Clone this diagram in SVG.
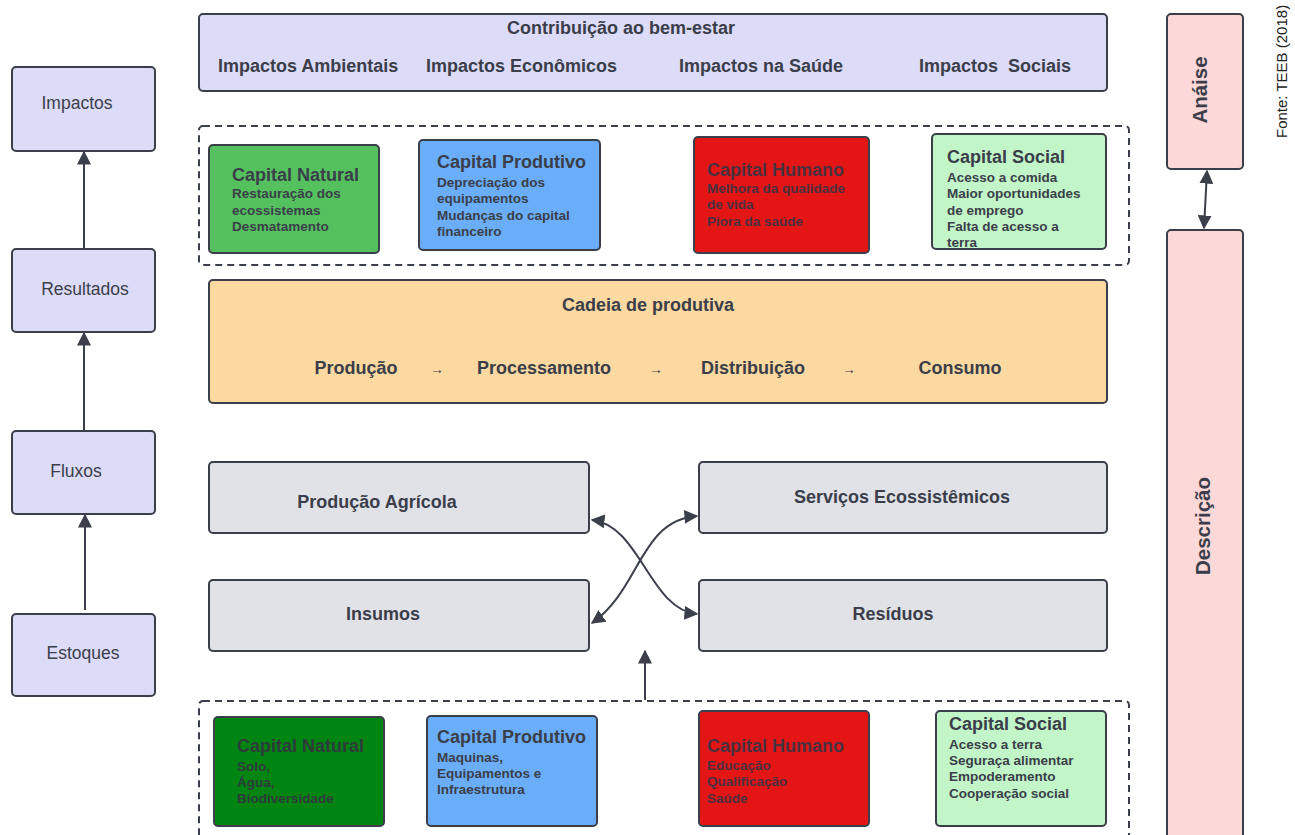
<svg xmlns="http://www.w3.org/2000/svg" width="1295" height="835" viewBox="0 0 1295 835">
<defs>
<style>
.box{stroke:#3b3f4a;stroke-width:2}
.dash{fill:none;stroke:#3b3f4a;stroke-width:2;stroke-dasharray:7 5}
.t{font-family:"Liberation Sans",Arial,sans-serif;fill:#3b3e4a}
.lbl{font-size:18px;font-weight:bold}
.rot{font-size:20.5px;font-weight:bold}
.cap{font-size:18px;font-weight:bold}
.ln{font-size:13.5px;font-weight:bold}
.left{font-size:17.5px}
.hum{fill:#4a3040}
.nat{fill:#2f3b3a}
.con{fill:none;stroke:#3b3f4a;stroke-width:2}
</style>
<marker id="ah2" viewBox="0 0 10 10" refX="9" refY="5" markerWidth="14" markerHeight="14" markerUnits="userSpaceOnUse" orient="auto-start-reverse">
<path d="M0,0 L10,5 L0,10 z" fill="#3b3f4a"/>
</marker>
</defs>
<rect width="1295" height="835" fill="#ffffff"/>

<g id="bem-estar">
<rect class="box" x="199" y="14" width="908" height="77" rx="4" fill="#dcdcf8"/>
<text class="t lbl" x="621" y="34" text-anchor="middle">Contribuição ao bem-estar</text>
<text class="t lbl" x="218" y="72">Impactos Ambientais</text>
<text class="t lbl" x="426" y="72">Impactos Econômicos</text>
<text class="t lbl" x="679" y="72">Impactos na Saúde</text>
<text class="t lbl" x="919" y="72" xml:space="preserve">Impactos  Sociais</text>
</g>

<g id="resultados-capitais">
<rect class="dash" x="199" y="126" width="930" height="139" rx="4"/>
</g>
<g id="cn1">
<rect class="box" x="209" y="145" width="170" height="108" rx="4" fill="#54c15e"/>
<text class="t cap" x="232" y="181">Capital Natural</text>
<text class="t ln" x="232" y="198">Restauração dos</text>
<text class="t ln" x="232" y="215">ecossistemas</text>
<text class="t ln" x="232" y="231">Desmatamento</text>
</g>
<g id="cp1">
<rect class="box" x="419" y="140" width="181" height="110" rx="4" fill="#6aaef9"/>
<text class="t cap" x="437" y="168">Capital Produtivo</text>
<text class="t ln" x="437" y="187">Depreciação dos</text>
<text class="t ln" x="437" y="203">equipamentos</text>
<text class="t ln" x="437" y="220">Mudanças do capital</text>
<text class="t ln" x="437" y="236">financeiro</text>
</g>
<g id="ch1">
<rect class="box" x="694" y="137" width="175" height="116" rx="4" fill="#e31515"/>
<text class="t cap hum" x="707" y="176">Capital Humano</text>
<text class="t ln hum" x="707" y="193">Melhora da qualidade</text>
<text class="t ln hum" x="707" y="209">de vida</text>
<text class="t ln hum" x="707" y="226">Piora da saúde</text>
</g>
<g id="cs1">
<rect class="box" x="932" y="134" width="174" height="115" rx="4" fill="#c2f5c8"/>
<text class="t cap" x="947" y="163">Capital Social</text>
<text class="t ln" x="947" y="182">Acesso a comida</text>
<text class="t ln" x="947" y="198">Maior oportunidades</text>
<text class="t ln" x="947" y="215">de emprego</text>
<text class="t ln" x="947" y="231">Falta de acesso a</text>
<text class="t ln" x="947" y="247">terra</text>
</g>

<g id="cadeia">
<rect class="box" x="209" y="280" width="898" height="123" rx="4" fill="#fcd9a0"/>
<text class="t lbl" x="648" y="311" text-anchor="middle">Cadeia de produtiva</text>
<text class="t lbl" x="356" y="374" text-anchor="middle">Produção</text>
<text class="t" x="437" y="374" font-size="14" text-anchor="middle">→</text>
<text class="t lbl" x="544" y="374" text-anchor="middle">Processamento</text>
<text class="t" x="656" y="374" font-size="14" text-anchor="middle">→</text>
<text class="t lbl" x="753" y="374" text-anchor="middle">Distribuição</text>
<text class="t" x="849" y="374" font-size="14" text-anchor="middle">→</text>
<text class="t lbl" x="960" y="374" text-anchor="middle">Consumo</text>
</g>

<g id="producao-agricola">
<rect class="box" x="209" y="462" width="380" height="71" rx="4" fill="#e0e2e8"/>
<text class="t lbl" x="377" y="508" text-anchor="middle">Produção Agrícola</text>
</g>
<g id="servicos">
<rect class="box" x="699" y="462" width="408" height="71" rx="4" fill="#e0e2e8"/>
<text class="t lbl" x="902" y="503" text-anchor="middle">Serviços Ecossistêmicos</text>
</g>
<g id="insumos">
<rect class="box" x="209" y="580" width="380" height="71" rx="4" fill="#e0e2e8"/>
<text class="t lbl" x="383" y="620" text-anchor="middle">Insumos</text>
</g>
<g id="residuos">
<rect class="box" x="699" y="580" width="408" height="71" rx="4" fill="#e0e2e8"/>
<text class="t lbl" x="893" y="620" text-anchor="middle">Resíduos</text>
</g>

<g id="estoques-capitais">
<rect class="dash" x="199" y="701" width="930" height="150" rx="4"/>
</g>
<g id="cn2">
<rect class="box" x="214" y="717" width="170" height="109" rx="4" fill="#008512"/>
<text class="t cap nat" x="237" y="752">Capital Natural</text>
<text class="t ln nat" x="237" y="771">Solo,</text>
<text class="t ln nat" x="237" y="787">Água,</text>
<text class="t ln nat" x="237" y="803">Biodiversidade</text>
</g>
<g id="cp2">
<rect class="box" x="427" y="716" width="170" height="110" rx="4" fill="#6aaef9"/>
<text class="t cap" x="437" y="743">Capital Produtivo</text>
<text class="t ln" x="437" y="762">Maquinas,</text>
<text class="t ln" x="437" y="778">Equipamentos e</text>
<text class="t ln" x="437" y="794">Infraestrutura</text>
</g>
<g id="ch2">
<rect class="box" x="699" y="711" width="170" height="115" rx="4" fill="#e31515"/>
<text class="t cap hum" x="707" y="752">Capital Humano</text>
<text class="t ln hum" x="707" y="770">Educação</text>
<text class="t ln hum" x="707" y="786">Qualificação</text>
<text class="t ln hum" x="707" y="803">Saúde</text>
</g>
<g id="cs2">
<rect class="box" x="936" y="711" width="170" height="115" rx="4" fill="#c2f5c8"/>
<text class="t cap" x="949" y="730">Capital Social</text>
<text class="t ln" x="949" y="749">Acesso a terra</text>
<text class="t ln" x="949" y="765">Seguraça alimentar</text>
<text class="t ln" x="949" y="781">Empoderamento</text>
<text class="t ln" x="949" y="798">Cooperação social</text>
</g>

<g id="impactos">
<rect class="box" x="12" y="67" width="143" height="84" rx="4" fill="#dcdcf8"/>
<text class="t left" x="77" y="109" text-anchor="middle">Impactos</text>
</g>
<g id="resultados">
<rect class="box" x="12" y="249" width="143" height="83" rx="4" fill="#dcdcf8"/>
<text class="t left" x="85" y="295" text-anchor="middle">Resultados</text>
</g>
<g id="fluxos">
<rect class="box" x="12" y="431" width="143" height="83" rx="4" fill="#dcdcf8"/>
<text class="t left" x="76" y="477" text-anchor="middle">Fluxos</text>
</g>
<g id="estoques">
<rect class="box" x="12" y="614" width="143" height="82" rx="4" fill="#dcdcf8"/>
<text class="t left" x="83" y="659" text-anchor="middle">Estoques</text>
</g>

<g id="analise">
<rect class="box" x="1167" y="14" width="76" height="155" rx="4" fill="#fdd8d8"/>
<text class="t rot" transform="translate(1207,90) rotate(-90)" text-anchor="middle">Anáise</text>
</g>
<g id="descricao">
<rect class="box" x="1167" y="230" width="76" height="620" rx="4" fill="#fdd8d8"/>
<text class="t rot" transform="translate(1210,526) rotate(-90)" text-anchor="middle">Descrição</text>
</g>

<g id="fonte">
<text class="t" transform="translate(1287,138) rotate(-90)" font-size="15" style="fill:#222">Fonte: TEEB (2018)</text>
</g>

<g id="connectors">
<line class="con" x1="84" y1="249" x2="84" y2="152" marker-end="url(#ah2)"/>
<line class="con" x1="84" y1="431" x2="84" y2="333" marker-end="url(#ah2)"/>
<line class="con" x1="85" y1="610" x2="85" y2="515" marker-end="url(#ah2)"/>
<line class="con" x1="645" y1="700" x2="645" y2="651" marker-end="url(#ah2)"/>
<line class="con" x1="1207" y1="171" x2="1204" y2="228" marker-start="url(#ah2)" marker-end="url(#ah2)"/>
<path class="con" d="M592,520 C640,525 650,610 697,614" marker-start="url(#ah2)" marker-end="url(#ah2)"/>
<path class="con" d="M592,623 C640,590 640,520 697,516" marker-start="url(#ah2)" marker-end="url(#ah2)"/>
</g>
</svg>
